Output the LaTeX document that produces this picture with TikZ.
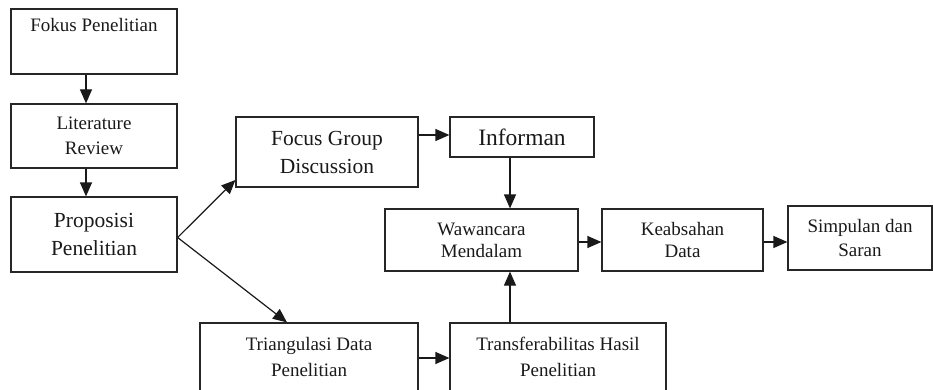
\documentclass[tikz,border=0pt]{standalone}
\usepackage{fontspec}
\setmainfont{Liberation Serif}
\usetikzlibrary{arrows.meta}
\tikzset{
  box/.style={draw=black!85, line width=1.2pt, rectangle, align=center, inner sep=0pt, text=black!90},
  small/.style={font=\fontsize{19}{25}\selectfont},
  large/.style={font=\fontsize{21.5}{28}\selectfont},
  huge2/.style={font=\fontsize{23.5}{28}\selectfont},
  arr/.style={draw=black!90, line width=1.2pt, -{Triangle[length=14pt,width=12pt]}}
}
\begin{document}
\begin{tikzpicture}[x=1pt,y=-1pt]
\useasboundingbox (0,0) rectangle (933,390);
% boxes
\node[box,small,minimum width=166pt,minimum height=65pt] (fokus) at (94,41.5) {Fokus Penelitian\\\strut};
\node[box,small,minimum width=166pt,minimum height=64pt] (lit) at (94,136) {\raisebox{-2pt}{Literature}\\\raisebox{-2pt}{Review}};
\node[box,large,minimum width=166pt,minimum height=75pt] (prop) at (94,234.5) {Proposisi\\Penelitian};
\node[box,large,minimum width=182pt,minimum height=70pt] (fgd) at (327,152) {Focus Group\\Discussion};
\node[box,huge2,minimum width=144pt,minimum height=40pt] (inf) at (522,137) {Informan};
\node[box,small,minimum width=193pt,minimum height=62pt,font=\fontsize{19}{22}\selectfont] (waw) at (481.5,240) {Wawancara\\Mendalam};
\node[box,small,minimum width=161pt,minimum height=62pt,font=\fontsize{19}{22}\selectfont] (keab) at (682.5,240) {Keabsahan\\Data};
\node[box,small,minimum width=144pt,minimum height=64pt,font=\fontsize{19}{24}\selectfont] (simp) at (860,238) {Simpulan dan\\Saran};
\node[box,small,minimum width=218pt,minimum height=68pt,font=\fontsize{19}{26}\selectfont] (tri) at (309,357) {Triangulasi Data\\Penelitian};
\node[box,small,minimum width=216pt,minimum height=68pt,font=\fontsize{19}{26}\selectfont] (trans) at (558,357) {Transferabilitas Hasil\\Penelitian};
% connectors
\draw[arr] (fokus.south -| 86,0) -- (lit.north -| 86,0);
\draw[arr] (lit.south -| 86,0) -- (prop.north -| 86,0);
\draw[arr] (prop.east |- 0,237.5) -- (fgd.south west |- 0,180);
\draw[arr] (prop.east |- 0,237.5) -- (tri.north -| 287,0);
\draw[arr] (fgd.east |- 0,135) -- (inf.west |- 0,135);
\draw[arr] (inf.south -| 510,0) -- (waw.north -| 510,0);
\draw[arr] (trans.north -| 510,0) -- (waw.south -| 510,0);
\draw[arr] (tri.east |- 0,358) -- (trans.west |- 0,358);
\draw[arr] (waw.east |- 0,242) -- (keab.west |- 0,242);
\draw[arr] (keab.east |- 0,242) -- (simp.west |- 0,242);
\end{tikzpicture}
\end{document}
